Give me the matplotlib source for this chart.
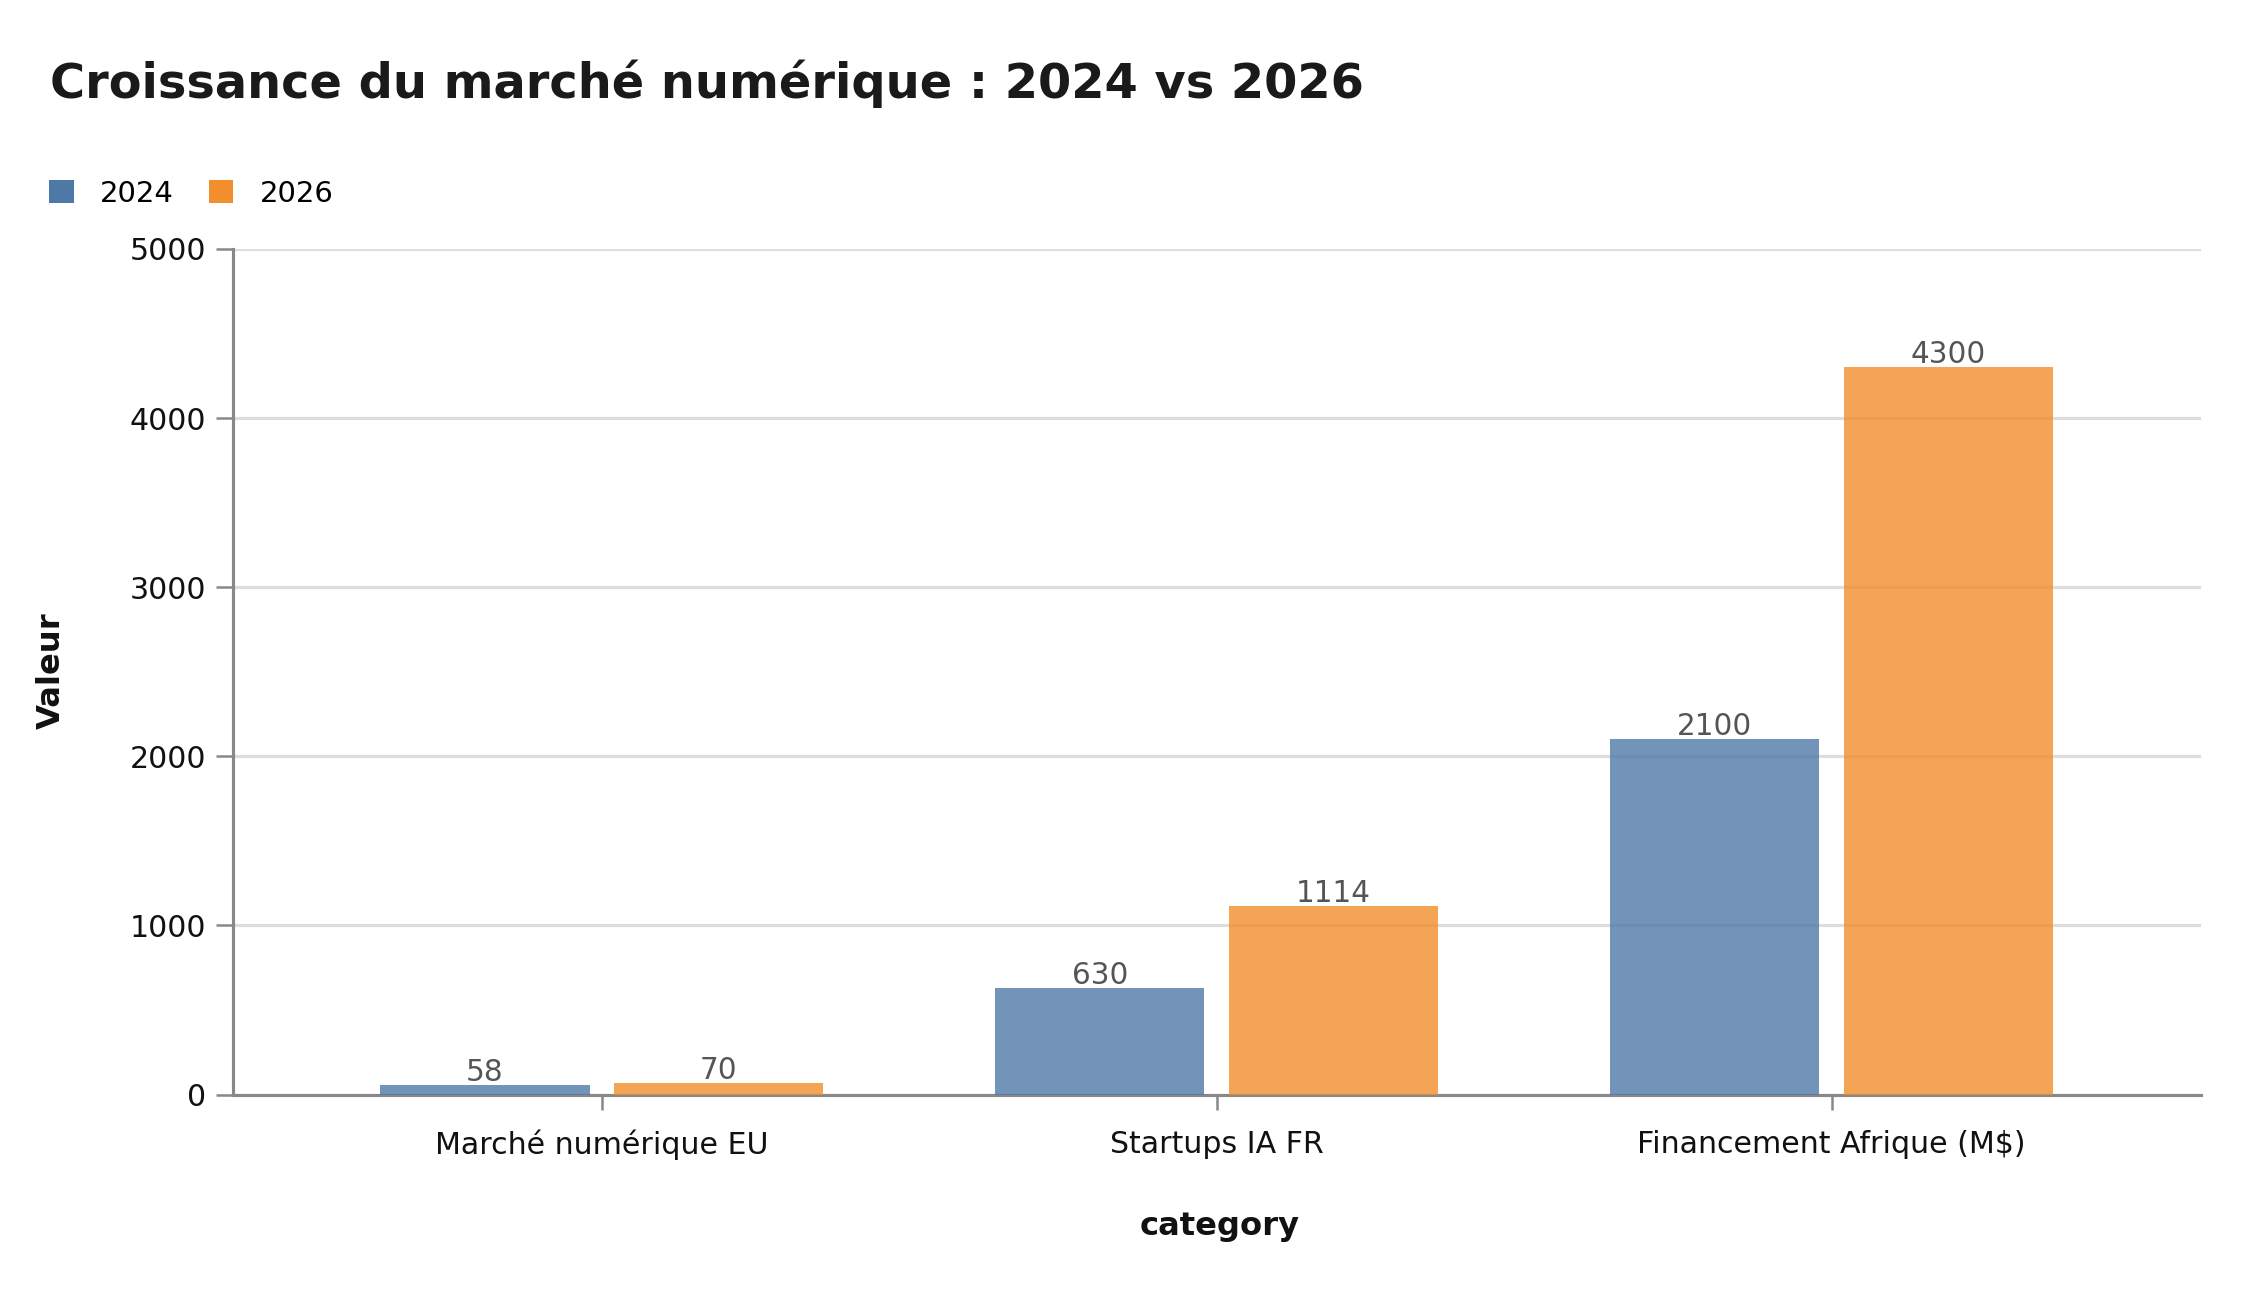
import matplotlib
matplotlib.use("Agg")
import matplotlib.pyplot as plt
from matplotlib.patches import Patch
import numpy as np

categories = ["Marché numérique EU", "Startups IA FR", "Financement Afrique (M$)"]
series_names = ["2024", "2026"]
values_2024 = [58, 630, 2100]
values_2026 = [70, 1114, 4300]
yticks = [0, 1000, 2000, 3000, 4000, 5000]

colors = ["#4e79a7", "#f28e2b"]

plt.rcParams['font.family'] = ['DejaVu Sans']
fig = plt.figure(figsize=(15, 8.6), dpi=150)
ax = fig.add_axes([0.1035, 0.1515, 0.8745, 0.6555])

x = np.arange(len(categories))
w = 0.34
off = 0.19
for vals, c, dx in [(values_2024, colors[0], -off), (values_2026, colors[1], off)]:
    bars = ax.bar(x + dx, vals, width=w, color=c, alpha=0.8, zorder=3)
    ax.bar_label(bars, labels=[f"{v}" for v in vals], padding=-1, fontsize=14.2,
                 color='#555555', zorder=4)

ax.set_xlim(-0.6, 2.6)
ax.set_ylim(0, 5000)
ax.set_yticks(yticks)
ax.set_xticks(x)
ax.set_xticklabels(categories)
ax.grid(axis='y', color='#dddddd', linewidth=1.5, zorder=0)
ax.set_axisbelow(True)
for s in ['top', 'right']:
    ax.spines[s].set_visible(False)
for s in ['left', 'bottom']:
    ax.spines[s].set_color('#888888')
    ax.spines[s].set_linewidth(1.5)
ax.tick_params(axis='both', colors='#888888', labelcolor='#111111', labelsize=14.4, width=1.2)
ax.tick_params(axis='y', length=8, pad=5)
ax.tick_params(axis='x', length=7, pad=10)

fig.text(0.022, 0.924, "Croissance du marché numérique : 2024 vs 2026", fontsize=23,
         fontweight='bold', color='#1a1a1a', ha='left', va='baseline')
fig.text(0.023, 0.48, "Valeur", fontsize=15.5, fontweight='bold', rotation=90,
         ha='center', va='center', color='#111111')
fig.text(0.542, 0.049, "category", fontsize=15.5, fontweight='bold',
         ha='center', va='center', color='#111111')

handles = [Patch(facecolor=c, label=n) for c, n in zip(colors, series_names)]
fig.legend(handles=handles, loc='center left', bbox_to_anchor=(0.010, 0.850), ncol=2,
           frameon=False, fontsize=14, handlelength=0.85, handleheight=0.85,
           handletextpad=0.9, columnspacing=1.2)

fig.savefig("out.png", dpi=150)
